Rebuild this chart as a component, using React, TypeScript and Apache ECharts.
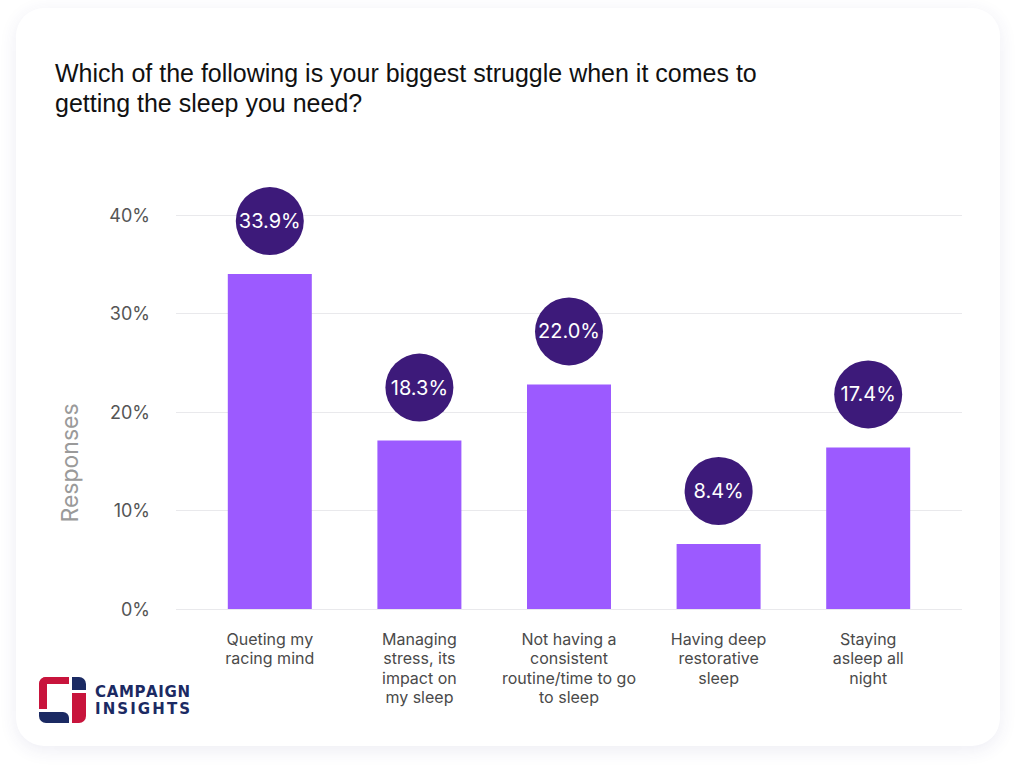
import React, { useEffect, useRef } from "react";
import * as echarts from "echarts";

const titleLines = [
  "Which of the following is your biggest struggle when it comes to",
  "getting the sleep you need?",
];
const categories = [
  "Queting my\nracing mind",
  "Managing\nstress, its\nimpact on\nmy sleep",
  "Not having a\nconsistent\nroutine/time to go\nto sleep",
  "Having deep\nrestorative\nsleep",
  "Staying\nasleep all\nnight",
];
const barValues = [34.0, 17.1, 22.8, 6.6, 16.4];
const labelTexts = ["33.9%", "18.3%", "22.0%", "8.4%", "17.4%"];
const yMin = 0;
const yMax = 40;
const yInterval = 10;
const yAxisName = "Responses";
const logoWords = ["CAMPAIGN", "INSIGHTS"];

const NAVY = "#1b2a63";
const RED = "#c8143c";

function spacedLetters(word: string, x0: number, x1: number, yMid: number, font: string) {
  const c = document.createElement("canvas").getContext("2d")!;
  c.font = font;
  const widths = word.split("").map((ch) => c.measureText(ch).width);
  const total = widths.reduce((a, b) => a + b, 0);
  const gap = (x1 - x0 - total) / (word.length - 1);
  let x = x0;
  return word.split("").map((ch, i) => {
    const el = {
      type: "text",
      x,
      y: yMid,
      style: {
        text: ch,
        font,
        fill: NAVY,
        verticalAlign: "middle",
        align: "left",
      },
    };
    x += widths[i] + gap;
    return el;
  });
}

export default function App() {
  const ref = useRef<HTMLDivElement>(null);
  useEffect(() => {
    const chart = echarts.init(ref.current!, null, { renderer: "svg" });
    const logoFont = 'bold 15px "DejaVu Sans"';
    const option: any = {
      animation: false,
      backgroundColor: "transparent",
      grid: [
        { left: 176, right: 62, top: 215, bottom: 169 },
        { left: 195, right: 81, top: 215, bottom: 169 },
      ],
      xAxis: [
        { type: "category", gridIndex: 0, data: categories, show: false },
        {
          type: "category",
          gridIndex: 1,
          data: categories,
          axisLine: { show: false },
          axisTick: { show: false },
          axisLabel: {
            margin: 20,
            color: "#4a4a4a",
            fontFamily: "Inter",
            fontSize: 16,
            lineHeight: 19.5,
            align: "center",
            verticalAlign: "top",
            interval: 0,
          },
        },
      ],
      yAxis: [
        {
          type: "value",
          gridIndex: 0,
          min: yMin,
          max: yMax,
          interval: yInterval,
          axisLine: { show: false },
          axisTick: { show: false },
          axisLabel: {
            formatter: "{value}%",
            margin: 26,
            color: "#555",
            fontFamily: "Inter",
            fontSize: 18,
          },
          splitLine: { lineStyle: { color: "#e9e9ec", width: 1 } },
        },
        {
          type: "value",
          gridIndex: 1,
          min: yMin,
          max: yMax,
          interval: yInterval,
          show: false,
          splitLine: { show: false },
        },
      ],
      series: [
        {
          type: "bar",
          xAxisIndex: 1,
          yAxisIndex: 1,
          data: barValues,
          barWidth: 84,
          itemStyle: { color: "#9c5aff" },
          label: {
            show: true,
            position: "top",
            distance: 19,
            formatter: (p: any) => labelTexts[p.dataIndex],
            color: "#fff",
            fontFamily: "Inter",
            fontSize: 20,
            backgroundColor: "#3d1a7a",
            borderRadius: 34,
            width: 68,
            height: 68,
            lineHeight: 68,
            align: "center",
          },
        },
      ],
      graphic: [
        {
          type: "text",
          left: 55,
          top: 58,
          style: {
            text: titleLines.join("\n"),
            fontFamily: '"Liberation Sans", Arial, sans-serif',
            fontSize: 25,
            lineHeight: 30,
            fill: "#111",
          },
        },
        {
          type: "text",
          x: 70,
          y: 463,
          rotation: Math.PI / 2,
          style: {
            text: yAxisName,
            fontFamily: "Inter",
            fontSize: 23,
            fill: "#9a9a9a",
            align: "center",
            verticalAlign: "middle",
          },
        },
        // logo shapes
        { type: "rect", shape: { x: 39, y: 677, width: 30, height: 7, r: [7, 0, 0, 0] }, style: { fill: RED } },
        { type: "rect", shape: { x: 39, y: 677, width: 8, height: 32, r: [7, 0, 0, 0] }, style: { fill: RED } },
        { type: "rect", shape: { x: 39, y: 712, width: 30, height: 11, r: [0, 6, 0, 7] }, style: { fill: NAVY } },
        { type: "rect", shape: { x: 72, y: 677, width: 14, height: 13, r: [0, 7, 0, 0] }, style: { fill: NAVY } },
        { type: "rect", shape: { x: 72, y: 693, width: 14, height: 30, r: [0, 0, 7, 0] }, style: { fill: RED } },
        ...spacedLetters(logoWords[0], 95, 190, 692, logoFont),
        ...spacedLetters(logoWords[1], 95, 190, 709, logoFont),
      ],
    };
    chart.setOption(option);
    return () => chart.dispose();
  }, []);
  return (
    <div style={{ position: "fixed", left: 0, top: 0, width: 1024, height: 778, background: "#fff" }}>
      <div
        style={{
          position: "absolute",
          left: 16,
          top: 8,
          width: 984,
          height: 738,
          borderRadius: 28,
          background: "#fff",
          boxShadow: "0 4px 18px rgba(60,60,130,0.09)",
        }}
      />
      <div ref={ref} style={{ position: "absolute", left: 0, top: 0, width: 1024, height: 778 }} />
    </div>
  );
}
